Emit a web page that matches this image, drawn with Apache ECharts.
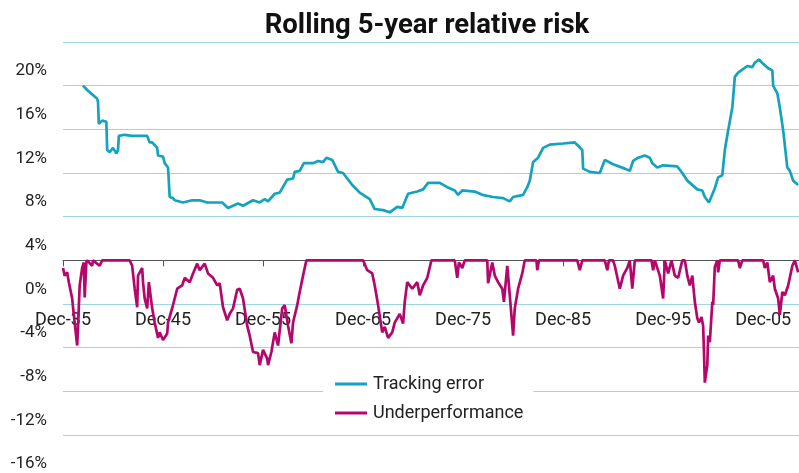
<!DOCTYPE html>
<html>
<head>
<meta charset="utf-8">
<title>Rolling 5-year relative risk</title>
<script src="https://cdn.jsdelivr.net/npm/echarts@6/dist/echarts.min.js"></script>
<style>
html,body{margin:0;padding:0;background:#fff;}
#chart{width:799px;height:473px;}
</style>
</head>
<body>
<div id="chart"></div>
<script>
//x = months since Dec-35
var teMonths=[24,29,41,42,43,47,52,53,56,60,64,66,67,74,83,92,101,104,107,113,114,120,122,126,128,132,134,144,155,164,173,191,198,210,216,228,236,242,246,254,260,269,276,278,284,289,300,306,312,316,323,330,336,347,356,368,374,384,392,401,407,414,425,432,438,452,461,470,474,479,494,503,516,528,536,540,552,557,560,564,570,576,584,600,614,618,623,624,632,644,650,660,674,680,684,690,698,704,707,713,720,737,743,749,761,767,770,775,782,786,791,794,798,803,804,806,810,821,827,830,835,840,846,851,852,857,860,864,869,872,876,882];
var teValues=[16.0,15.6,14.8,14.5,12.5,12.8,12.7,10.1,9.9,10.3,9.8,10.1,11.4,11.5,11.4,11.4,11.4,10.8,10.8,10.3,9.6,9.5,8.9,8.5,5.8,5.7,5.5,5.3,5.5,5.5,5.3,5.3,4.8,5.2,5.0,5.5,5.3,5.6,5.4,6.1,6.2,7.4,7.5,8.1,8.2,8.9,8.9,9.1,9.0,9.4,9.2,8.1,8.0,6.9,6.2,5.6,4.7,4.6,4.4,4.9,4.8,6.1,6.3,6.5,7.1,7.1,6.7,6.4,6.0,6.4,6.3,6.0,5.8,5.7,5.4,5.8,6.0,6.7,7.3,9.0,9.4,10.3,10.6,10.7,10.8,10.5,10.1,8.4,8.1,8.0,9.2,8.8,8.4,8.2,9.1,9.4,9.6,9.4,8.9,8.5,8.7,8.6,8.0,7.3,6.5,6.4,5.8,5.3,6.6,7.6,7.8,10.1,11.9,14.0,14.9,16.8,17.2,17.8,17.7,18.1,18.4,18.0,17.6,17.4,16.0,15.3,14.0,11.9,8.5,8.2,7.3,6.9];

var upMonths=[0,2,5,7,11,13,17,18,20,23,25,26,28,29,35,36,44,47,80,83,86,89,90,95,96,98,101,103,107,110,114,116,120,125,126,132,137,143,146,152,156,161,164,170,174,180,185,188,192,197,200,204,209,212,216,221,224,228,234,236,240,245,246,250,254,258,263,266,270,274,276,281,284,288,292,360,365,371,374,378,383,386,390,395,398,404,408,410,413,419,425,428,432,437,442,470,473,475,479,482,509,510,515,518,522,527,529,533,536,540,542,546,551,554,568,569,571,617,620,623,650,653,655,660,662,668,672,677,680,683,686,706,708,710,716,720,722,726,730,734,738,743,746,749,752,755,758,761,763,766,768,769,770,773,774,776,779,780,782,785,786,788,810,812,815,840,842,845,848,852,854,858,860,863,866,870,875,878,882];
var upValues=[-0.7,-1.4,-1.1,-2.0,-3.5,-5.0,-7.8,-6.2,-2.3,-0.7,-0.2,-3.4,-0.2,0,-0.5,0,-0.5,0,0,-0.5,-2.6,-4.3,-1.4,-0.7,-2.0,-3.5,-4.4,-2.0,-4.4,-5.7,-7.1,-6.6,-7.3,-6.7,-5.7,-4.1,-2.6,-2.3,-1.6,-2.0,-1.2,-0.3,-0.9,-0.3,-1.2,-1.6,-2.3,-2.1,-4.3,-5.5,-4.9,-4.4,-2.7,-2.6,-3.5,-6.0,-6.9,-8.4,-8.5,-9.6,-8.2,-9.0,-9.6,-8.4,-6.6,-7.8,-4.4,-4.1,-6.0,-7.6,-5.7,-4.1,-2.9,-1.4,0,0,-0.9,-1.2,-2.3,-4.1,-6.6,-6.1,-7.1,-6.6,-5.7,-4.9,-5.8,-3.8,-2.0,-2.6,-2.0,-3.2,-2.3,-1.6,0,0,-1.6,-0.2,-0.7,0,0,-2.1,-0.2,-1.4,-2.0,-2.6,-3.8,-0.5,-3.2,-6.9,-4.4,-2.6,-1.2,0,0,-0.9,0,0,-0.9,0,0,-0.9,0,0,-0.5,-2.6,-1.4,-0.7,0,-2.6,0,0,-0.9,0,-1.4,-3.5,0,-1.2,0,-1.4,-1.6,0,0,-1.4,-2.3,-1.4,-3.8,-5.3,-5.7,-5.2,-6.0,-8.4,-11.2,-9.6,-6.9,-7.5,-3.8,-4.1,-0.6,0,-1.1,0,0,-0.7,0,0,-0.7,-0.2,-2.0,-1.4,-2.6,-3.5,-5.0,-2.9,-3.2,-2.3,-0.5,0,-1.1];

//刻度 every 10 years
var tickMonths=[0,120,240,360,480,600,720,840];
var tickLabels=['Dec-35','Dec-45','Dec-55','Dec-65','Dec-75','Dec-85','Dec-95','Dec-05'];

var teData=teMonths.map(function(m,i){return [m,teValues[i]];});
var upData=upMonths.map(function(m,i){return [m,upValues[i]];});

var font='Roboto';
var labelStyle={fontFamily:font,fontSize:17,color:'#222'};

var myChart=echarts.init(document.getElementById('chart'));
option={
    animation:false,
    title:{
        text:'Rolling 5-year relative risk',
        left:422,
        top:7,
        textAlign:'center',
        textStyle:{
            fontFamily:font,
            fontWeight:'bold',
            fontSize:27.5,
            color:'#111'
        }
    },
    legend:{
        orient:'vertical',
        left:323,
        top:371,
        backgroundColor:'#fff',
        padding:[4,10,4,12],
        itemWidth:32,
        itemHeight:3,
        itemGap:11,
        icon:'rect',
        textStyle:{
            fontFamily:font,
            fontSize:18,
            color:'#222',
            padding:[0,0,0,1]
        },
        data:['Tracking error','Underperformance']
    },
    //0: plot, 1: y labels (Excel puts them under the gridlines), 2: x labels
    grid:[
        {left:63,right:0,top:42,bottom:38,outerBoundsMode:'none',containLabel:false},
        {left:63,right:0,top:71,bottom:9,outerBoundsMode:'none',containLabel:false},
        {left:63,right:0,top:42,bottom:213,outerBoundsMode:'none',containLabel:false}
    ],
    xAxis:[{
        gridIndex:0,
        type:'value',
        min:0,
        max:883,
        interval:120,
        splitLine:{show:false},
        axisLine:{
            onZero:true,
            lineStyle:{color:'#555',width:1}
        },
        axisTick:{
            length:6,
            customValues:tickMonths,
            lineStyle:{color:'#555'}
        },
        axisLabel:{show:false}
    },{
        gridIndex:1,
        type:'value',
        min:0,
        max:883,
        show:false
    },{
        gridIndex:2,
        type:'value',
        min:0,
        max:883,
        interval:120,
        splitLine:{show:false},
        axisLine:{show:false,onZero:false},
        axisTick:{show:false},
        axisLabel:Object.assign({
            margin:51,
            fontSize:18,
            customValues:tickMonths,
            formatter:function(v){
                var i=tickMonths.indexOf(v);
                return i<0?'':tickLabels[i];
            }
        },{fontFamily:font,color:'#222'})
    }],
    yAxis:[{
        gridIndex:0,
        type:'value',
        min:-16,
        max:20,
        interval:4,
        axisLine:{show:false},
        axisTick:{show:false},
        axisLabel:{show:false},
        splitLine:{
            lineStyle:{color:'#9fd7e0',width:1,type:'solid'}
        }
    },{
        gridIndex:1,
        type:'value',
        min:-16,
        max:20,
        interval:4,
        axisLine:{show:false},
        axisTick:{show:false},
        splitLine:{show:false},
        axisLabel:Object.assign({
            margin:16,
            showMinLabel:true,
            showMaxLabel:true,
            formatter:function(v){return v+'%';}
        },labelStyle)
    },{
        gridIndex:2,
        type:'value',
        min:0,
        max:1,
        show:false
    }],
    series:[
    {
        name:'Tracking error',
        type:'line',
        xAxisIndex:0,
        yAxisIndex:0,
        showSymbol:false,
        lineStyle:{color:'#13a3be',width:2.7},
        itemStyle:{color:'#13a3be'},
        data:teData
    },
    {
        name:'Underperformance',
        type:'line',
        xAxisIndex:0,
        yAxisIndex:0,
        showSymbol:false,
        lineStyle:{color:'#b5066b',width:2.7},
        itemStyle:{color:'#b5066b'},
        data:upData
    }]
};
myChart.setOption(option);
</script>
</body>
</html>
